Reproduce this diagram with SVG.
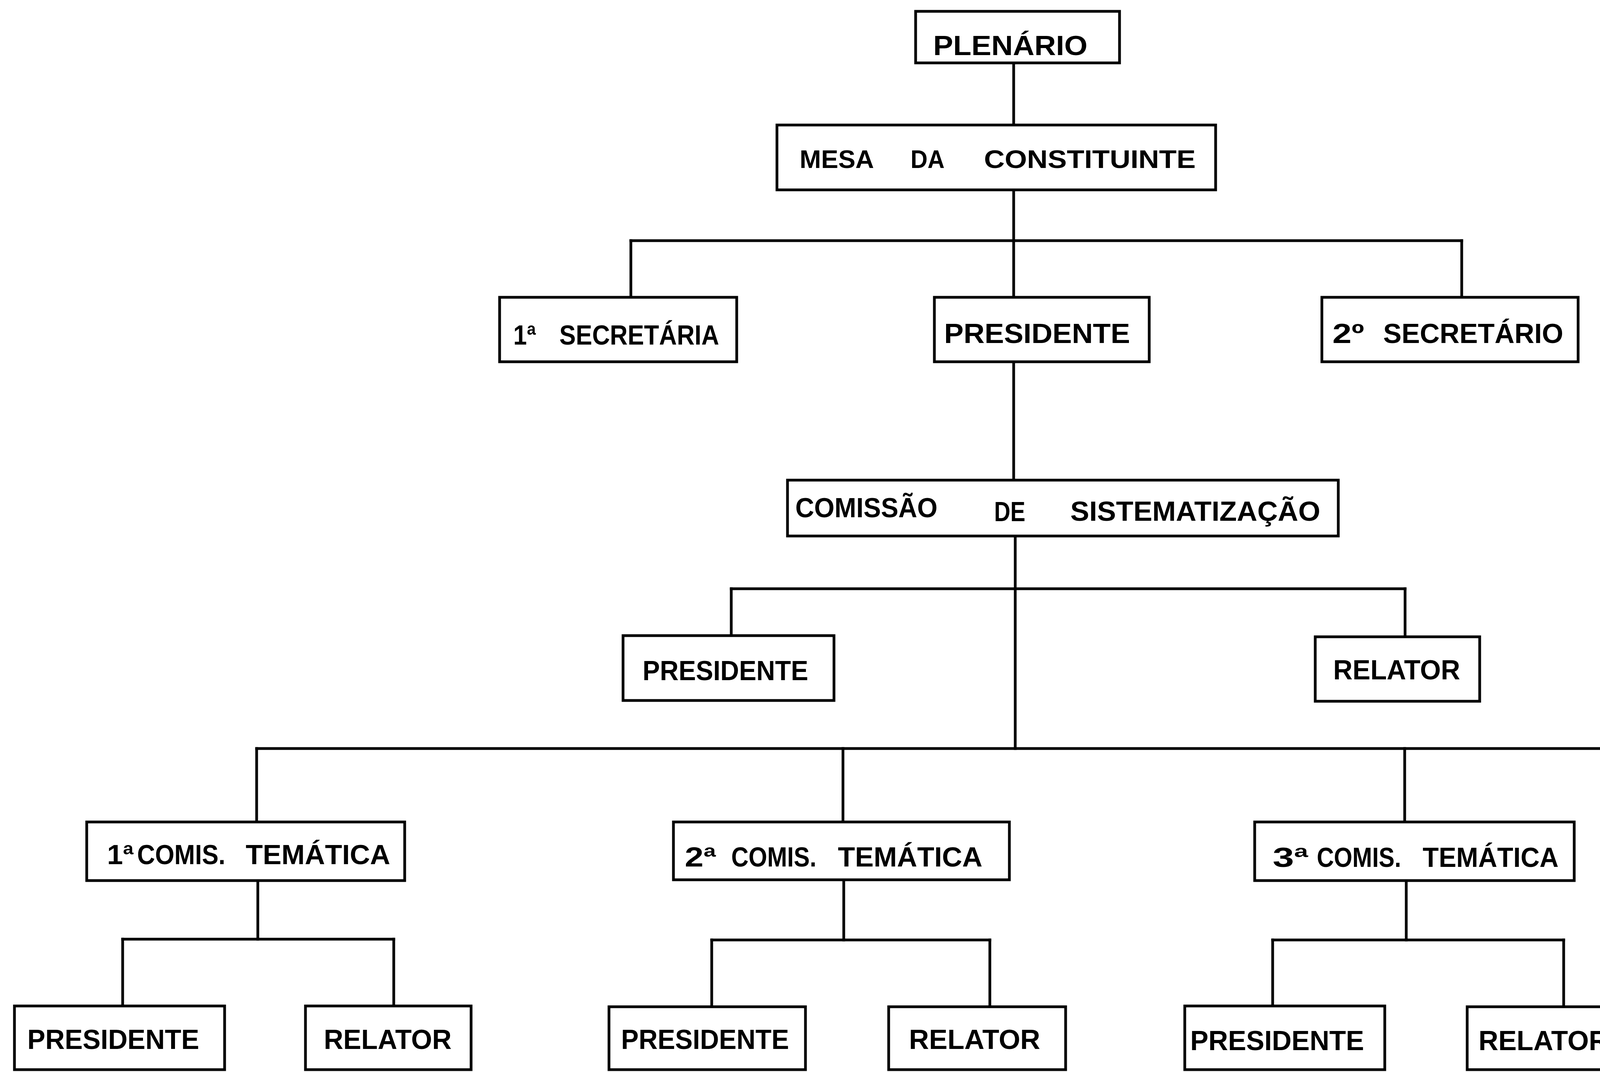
<svg xmlns="http://www.w3.org/2000/svg" width="5671" height="2744" viewBox="0 0 5671 2744">
<style>
.bg{fill:#ffffff}
.box{fill:#ffffff;stroke:#000000;stroke-width:7}
.ln{fill:none;stroke:#000000;stroke-width:7;stroke-linecap:square}
.t{font-family:"Liberation Sans","DejaVu Sans",sans-serif;font-weight:bold;font-size:70px;fill:#000000}
.tm{font-size:64px}
</style>
<rect class="bg" x="0" y="0" width="5671" height="2744"/>
<g id="connectors">
<path class="ln" d="M2595 161 V320"/>
<path class="ln" d="M2595 486 V1229"/>
<path class="ln" d="M1615 616 H3742"/>
<path class="ln" d="M1615 616 V761"/>
<path class="ln" d="M3742 616 V761"/>
<path class="ln" d="M2599 1372 V1916"/>
<path class="ln" d="M1872 1507 H3597"/>
<path class="ln" d="M1872 1507 V1627"/>
<path class="ln" d="M3597 1507 V1630"/>
<path class="ln" d="M657 1916 H5092"/>
<path class="ln" d="M657 1916 V2104"/>
<path class="ln" d="M2158 1916 V2104"/>
<path class="ln" d="M3596 1916 V2104"/>
<path class="ln" d="M5092 1916 V2127"/>
<path class="ln" d="M660 2254 V2404"/>
<path class="ln" d="M314 2404 H1008"/>
<path class="ln" d="M314 2404 V2575"/>
<path class="ln" d="M1008 2404 V2575"/>
<path class="ln" d="M2160 2252 V2406"/>
<path class="ln" d="M1822 2406 H2534"/>
<path class="ln" d="M1822 2406 V2577"/>
<path class="ln" d="M2534 2406 V2577"/>
<path class="ln" d="M3600 2254 V2406"/>
<path class="ln" d="M3258 2406 H4003"/>
<path class="ln" d="M3258 2406 V2575"/>
<path class="ln" d="M4003 2406 V2577"/>
<path class="ln" d="M5094 2263 V2409"/>
<path class="ln" d="M4752 2409 H5486"/>
<path class="ln" d="M4752 2409 V2577"/>
<path class="ln" d="M5486 2409 V2580"/>
</g>
<g id="plenario">
<rect class="box" x="2344" y="29" width="522" height="132"/>
<text class="t" x="2389" y="141" textLength="395" lengthAdjust="spacingAndGlyphs">PLENÁRIO</text>
</g>
<g id="mesa">
<rect class="box" x="1989" y="320" width="1123" height="166"/>
<text class="t tm" y="430"><tspan x="2047" textLength="188" lengthAdjust="spacingAndGlyphs">MESA</tspan> <tspan x="2331" textLength="85" lengthAdjust="spacingAndGlyphs">DA</tspan> <tspan x="2519" textLength="542" lengthAdjust="spacingAndGlyphs">CONSTITUINTE</tspan></text>
</g>
<g id="sec1">
<rect class="box" x="1279" y="761" width="607" height="165"/>
<text class="t" y="882"><tspan x="1314" textLength="58" lengthAdjust="spacingAndGlyphs">1ª</tspan> <tspan x="1432" textLength="409" lengthAdjust="spacingAndGlyphs">SECRETÁRIA</tspan></text>
</g>
<g id="presidente-mesa">
<rect class="box" x="2392" y="761" width="550" height="165"/>
<text class="t" x="2417" y="878" textLength="476" lengthAdjust="spacingAndGlyphs">PRESIDENTE</text>
</g>
<g id="sec2">
<rect class="box" x="3384" y="761" width="656" height="165"/>
<text class="t" y="878"><tspan x="3411" textLength="81" lengthAdjust="spacingAndGlyphs">2º</tspan> <tspan x="3541" textLength="461" lengthAdjust="spacingAndGlyphs">SECRETÁRIO</tspan></text>
</g>
<g id="comissao">
<rect class="box" x="2016" y="1229" width="1410" height="143"/>
<text class="t"><tspan x="2036" y="1324" textLength="364" lengthAdjust="spacingAndGlyphs">COMISSÃO</tspan> <tspan x="2545" y="1334" textLength="80" lengthAdjust="spacingAndGlyphs">DE</tspan> <tspan x="2740" y="1333" textLength="640" lengthAdjust="spacingAndGlyphs">SISTEMATIZAÇÃO</tspan></text>
</g>
<g id="cs-presidente">
<rect class="box" x="1595" y="1627" width="540" height="166"/>
<text class="t" x="1645" y="1741" textLength="424" lengthAdjust="spacingAndGlyphs">PRESIDENTE</text>
</g>
<g id="cs-relator">
<rect class="box" x="3367" y="1630" width="421" height="165"/>
<text class="t" x="3413" y="1739" textLength="325" lengthAdjust="spacingAndGlyphs">RELATOR</text>
</g>
<g id="ct1">
<rect class="box" x="222" y="2104" width="814" height="150"/>
<text class="t" y="2212"><tspan x="274" textLength="68" lengthAdjust="spacingAndGlyphs">1ª</tspan><tspan x="351" textLength="226" lengthAdjust="spacingAndGlyphs">COMIS.</tspan> <tspan x="629" textLength="370" lengthAdjust="spacingAndGlyphs">TEMÁTICA</tspan></text>
</g>
<g id="ct2">
<rect class="box" x="1724" y="2104" width="860" height="148"/>
<text class="t" y="2218"><tspan x="1753" textLength="80" lengthAdjust="spacingAndGlyphs">2ª</tspan> <tspan x="1872" textLength="218" lengthAdjust="spacingAndGlyphs">COMIS.</tspan> <tspan x="2145" textLength="370" lengthAdjust="spacingAndGlyphs">TEMÁTICA</tspan></text>
</g>
<g id="ct3">
<rect class="box" x="3212" y="2104" width="818" height="150"/>
<text class="t" y="2219"><tspan x="3258" textLength="91" lengthAdjust="spacingAndGlyphs">3ª</tspan><tspan x="3371" textLength="216" lengthAdjust="spacingAndGlyphs">COMIS.</tspan> <tspan x="3642" textLength="348" lengthAdjust="spacingAndGlyphs">TEMÁTICA</tspan></text>
</g>
<g id="ct4">
<rect class="box" x="4689" y="2127" width="857" height="136"/>
<text class="t" y="2227"><tspan x="4722" textLength="92" lengthAdjust="spacingAndGlyphs">4ª</tspan><tspan x="4832" textLength="211" lengthAdjust="spacingAndGlyphs">COMIS.</tspan> <tspan x="5129" textLength="359" lengthAdjust="spacingAndGlyphs">TEMÁTICA</tspan></text>
</g>
<g id="ct1-presidente">
<rect class="box" x="37" y="2575" width="538" height="163"/>
<text class="t" x="70" y="2685" textLength="440" lengthAdjust="spacingAndGlyphs">PRESIDENTE</text>
</g>
<g id="ct1-relator">
<rect class="box" x="782" y="2575" width="424" height="163"/>
<text class="t" x="829" y="2685" textLength="327" lengthAdjust="spacingAndGlyphs">RELATOR</text>
</g>
<g id="ct2-presidente">
<rect class="box" x="1559" y="2577" width="503" height="161"/>
<text class="t" x="1590" y="2685" textLength="430" lengthAdjust="spacingAndGlyphs">PRESIDENTE</text>
</g>
<g id="ct2-relator">
<rect class="box" x="2275" y="2577" width="453" height="161"/>
<text class="t" x="2327" y="2685" textLength="336" lengthAdjust="spacingAndGlyphs">RELATOR</text>
</g>
<g id="ct3-presidente">
<rect class="box" x="3033" y="2575" width="512" height="163"/>
<text class="t" x="3047" y="2688" textLength="445" lengthAdjust="spacingAndGlyphs">PRESIDENTE</text>
</g>
<g id="ct3-relator">
<rect class="box" x="3756" y="2577" width="421" height="161"/>
<text class="t" x="3785" y="2688" textLength="333" lengthAdjust="spacingAndGlyphs">RELATOR</text>
</g>
<g id="ct4-presidente">
<rect class="box" x="4512" y="2577" width="531" height="161"/>
<text class="t" x="4585" y="2694" textLength="430" lengthAdjust="spacingAndGlyphs">PRESIDENTE</text>
</g>
<g id="ct4-relator">
<rect class="box" x="5248" y="2580" width="417" height="158"/>
<text class="t" x="5266" y="2694" textLength="344" lengthAdjust="spacingAndGlyphs">RELATOR</text>
</g>
</svg>
